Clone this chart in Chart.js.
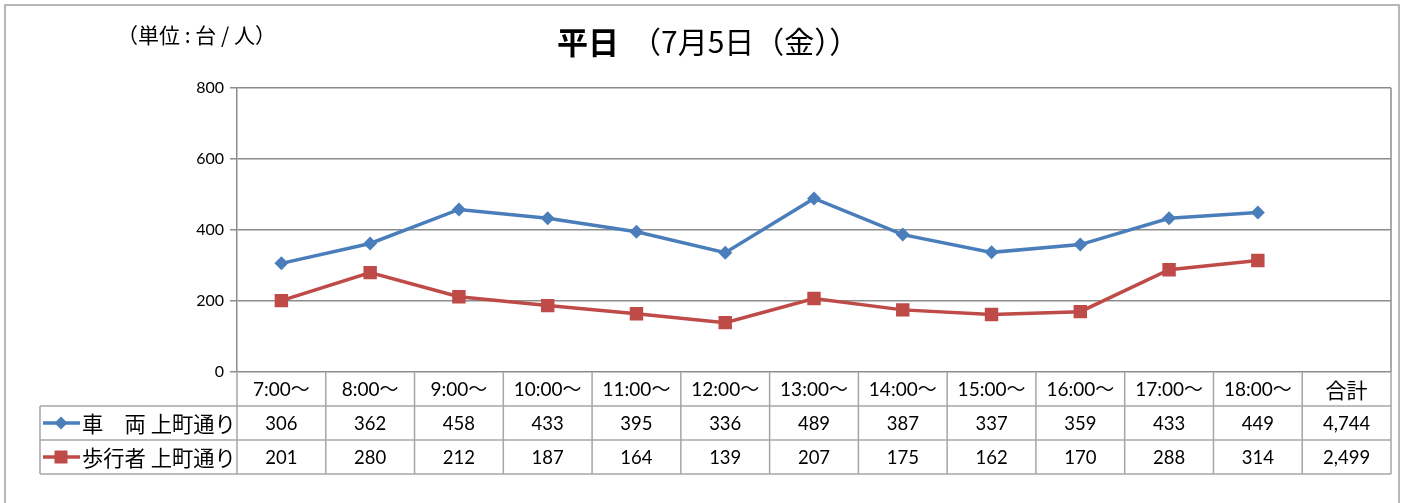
<!DOCTYPE html>
<html>
<head>
<meta charset="utf-8">
<script src="https://cdn.jsdelivr.net/npm/chart.js@4"></script>
<style>
  body { margin: 0; background: #fff; }
  canvas { display: block; }
</style>
</head>
<body>
<canvas id="trafficChart" width="1407" height="503"></canvas>
<script>
// 時間帯ラベル（最後は合計列）
const timeLabels = ['7:00～', '8:00～', '9:00～', '10:00～', '11:00～', '12:00～', '13:00～',
    '14:00～', '15:00～', '16:00～', '17:00～', '18:00～', '合計'];
const vehicleValues = [306, 362, 458, 433, 395, 336, 489, 387, 337, 359, 433, 449];
const walkerValues = [201, 280, 212, 187, 164, 139, 207, 175, 162, 170, 288, 314];
const seriesNames = ['車　両 上町通り', '歩行者 上町通り'];
const yTicks = [0, 200, 400, 600, 800];

const titleMain = '平日';
const titleSub = '（7月5日（金））';
const unitText = '（単位 : 台 / 人）';

const BLUE = '#4A7EBB';
const RED = '#BE4B48';
const GRID = '#8c8c8c';
const TABLE_LINE = '#a6a6a6';
const FONT = "Lato, 'Noto Sans CJK JP', sans-serif";
const JP = "'Noto Sans CJK JP', sans-serif";

const sum = arr => arr.reduce((a, b) => a + b, 0);

// 枠・タイトル・データテーブル
const tablePlugin = {
    id: 'tablePlugin',
    afterDraw(chart) {
        const ctx = chart.ctx;
        const area = chart.chartArea;
        const xs = chart.scales.x;
        const colW = (area.right - area.left) / timeLabels.length;
        const rowH = 34;
        const top = area.bottom;
        const legendLeft = 40;

        ctx.save();

        // outer frame
        ctx.strokeStyle = '#a0a0a0';
        ctx.lineWidth = 1.5;
        ctx.beginPath();
        ctx.moveTo(5, 503);
        ctx.lineTo(5, 5);
        ctx.lineTo(1399, 5);
        ctx.lineTo(1399, 503);
        ctx.stroke();

        // plot right border
        ctx.strokeStyle = GRID;
        ctx.beginPath();
        ctx.moveTo(area.right, area.top);
        ctx.lineTo(area.right, area.bottom);
        ctx.stroke();

        // titles
        ctx.fillStyle = '#000';
        ctx.textBaseline = 'middle';
        ctx.textAlign = 'left';
        ctx.font = 'bold 31px ' + JP;
        ctx.fillText(titleMain, 557, 42);
        ctx.font = '30px ' + JP;
        ctx.fillText(titleSub, 631, 42);

        ctx.font = '21px ' + JP;
        ctx.fillText(unitText, 117, 35);

        // table grid
        ctx.strokeStyle = TABLE_LINE;
        ctx.lineWidth = 1.5;
        ctx.beginPath();
        for (let i = 0; i <= timeLabels.length; i++) {
            const x = area.left + i * colW;
            ctx.moveTo(x, top);
            ctx.lineTo(x, top + rowH * 3);
        }
        ctx.moveTo(legendLeft, top + rowH);
        ctx.lineTo(legendLeft, top + rowH * 3);
        for (let r = 1; r <= 3; r++) {
            ctx.moveTo(legendLeft, top + rowH * r);
            ctx.lineTo(area.right, top + rowH * r);
        }
        ctx.stroke();

        // header + values
        const rows = [vehicleValues, walkerValues];
        ctx.textAlign = 'center';
        ctx.fillStyle = '#000';
        timeLabels.forEach((lab, i) => {
            const cx = xs.getPixelForValue(i);
            ctx.font = (i === timeLabels.length - 1 ? '21px ' + JP : '19px ' + FONT);
            ctx.fillText(lab, cx, top + rowH / 2 + 1);
            rows.forEach((vals, r) => {
                const v = i < vals.length ? vals[i] : sum(vals);
                ctx.font = '18.5px ' + FONT;
                ctx.fillText(v.toLocaleString('en-US'), cx, top + rowH * (r + 1.5) + 1);
            });
        });

        // legend keys
        const colors = [BLUE, RED];
        seriesNames.forEach((name, r) => {
            const cy = top + rowH * (r + 1.5);
            ctx.strokeStyle = colors[r];
            ctx.fillStyle = colors[r];
            ctx.lineWidth = 3.5;
            ctx.beginPath();
            ctx.moveTo(43, cy);
            ctx.lineTo(80, cy);
            ctx.stroke();
            if (r === 0) {
                ctx.beginPath();
                ctx.moveTo(61, cy - 6.5);
                ctx.lineTo(67.5, cy);
                ctx.lineTo(61, cy + 6.5);
                ctx.lineTo(54.5, cy);
                ctx.closePath();
                ctx.fill();
            } else {
                ctx.fillRect(54.5, cy - 6.5, 13, 13);
            }
            ctx.fillStyle = '#000';
            ctx.textAlign = 'left';
            ctx.font = '21.3px ' + JP;
            ctx.fillText(name, 82, cy + 1);
        });

        ctx.restore();
    }
};

new Chart(document.getElementById('trafficChart'), {
    type: 'line',
    data: {
        labels: timeLabels,
        datasets: [
            {
                label: seriesNames[0],
                data: vehicleValues,
                borderColor: BLUE,
                backgroundColor: BLUE,
                borderWidth: 3.5,
                pointStyle: 'rectRot',
                pointRadius: 7,
                pointBorderWidth: 0,
                tension: 0
            },
            {
                label: seriesNames[1],
                data: walkerValues,
                borderColor: RED,
                backgroundColor: RED,
                borderWidth: 3.5,
                pointStyle: 'rect',
                pointRadius: 9.5,
                pointBorderWidth: 0,
                tension: 0
            }
        ]
    },
    options: {
        responsive: false,
        animation: false,
        layout: {
            padding: { left: 0, top: 88, right: 16, bottom: 131 }
        },
        plugins: {
            legend: { display: false },
            title: { display: false },
            tooltip: { enabled: false }
        },
        scales: {
            x: {
                display: false,
                offset: true
            },
            y: {
                min: 0,
                max: 800,
                afterBuildTicks: scale => {
                    scale.ticks = yTicks.map(v => ({ value: v }));
                },
                afterFit: scale => {
                    scale.width = 237;
                },
                grid: {
                    color: GRID,
                    lineWidth: 1.5,
                    drawTicks: true,
                    tickLength: 7
                },
                border: { display: true, color: GRID, width: 1.5 },
                ticks: {
                    color: '#000',
                    padding: 6,
                    font: { family: FONT, size: 16 }
                }
            }
        }
    },
    plugins: [tablePlugin]
});
</script>
</body>
</html>
